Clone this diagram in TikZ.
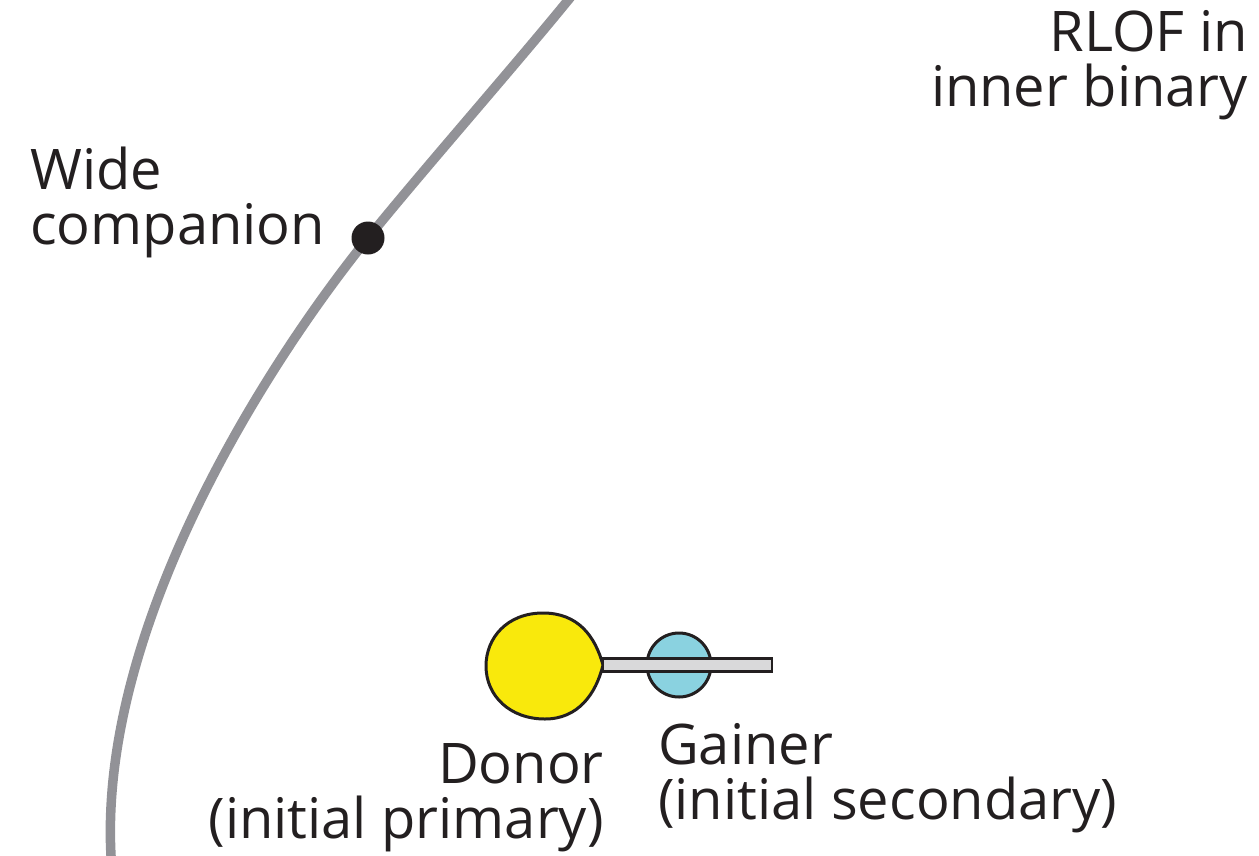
\documentclass[tikz,border=0pt]{standalone}
\usepackage{fontspec}
\setmainfont{Open Sans}
\usetikzlibrary{positioning}
\definecolor{orbit}{HTML}{929297}
\definecolor{ink}{HTML}{231F20}
\definecolor{donorfill}{HTML}{F9E90C}
\definecolor{gainerfill}{HTML}{8AD2E0}
\definecolor{diskfill}{HTML}{D9D9DA}

\begin{document}
\begin{tikzpicture}[x=1pt,y=-1pt,
  font=\fontsize{56}{55}\selectfont,
  lbl/.style={inner sep=0pt,text=ink},
  orb/.style={draw=orbit,line width=9.5pt},
  star/.style={draw=ink,line width=3pt}]
\useasboundingbox (0,0) rectangle (1259,855);
% outer orbit of the wide companion
\coordinate (widepos) at (368,238);
\draw[orb] (112,870) .. controls (92,640) and (260,372) .. (widepos)
  .. controls (428,164) and (520,60) .. (578,-12);
\node[circle,fill=ink,inner sep=0pt,minimum size=33pt] (wide) at (widepos) {};
% inner binary
\node[star,circle,fill=gainerfill,inner sep=0pt,minimum size=64pt] (gainer) at (679,665) {};
\draw[star,fill=donorfill] (603,665) .. controls (595,636) and (578,613) .. (543,613)
  .. controls (507,613) and (486,638) .. (486,666)
  .. controls (486,696) and (510,719) .. (545,719)
  .. controls (578,719) and (596,694) .. (603,665) -- cycle;
\draw[star,line width=2.2pt,fill=diskfill] (603,658.5) rectangle (772,671.5);
% labels (base = last line)
\node[lbl,align=right,anchor=base east] (rlof) at (1248,106) {RLOF in\\inner binary};
\node[lbl,align=left,anchor=base west] (widelbl) at (30,244) {Wide\\companion};
\node[lbl,align=right,anchor=base east] (donor) at (604,838) {Donor\\(initial primary)};
\node[lbl,align=left,anchor=base west] (gainerlbl) at (658,819) {Gainer\\(initial secondary)};
\end{tikzpicture}
\end{document}
